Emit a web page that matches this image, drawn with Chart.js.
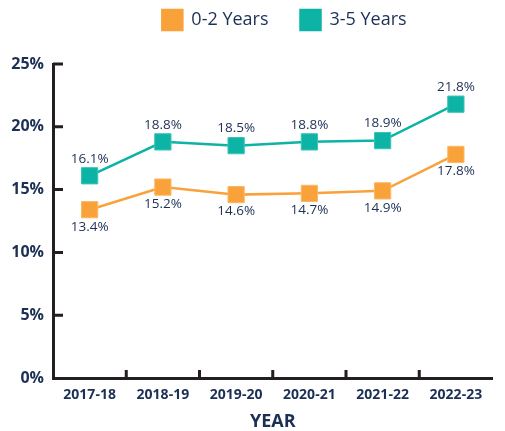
<!DOCTYPE html>
<html>
<head>
<meta charset="utf-8">
<script src="https://cdn.jsdelivr.net/npm/chart.js@4.4.1/dist/chart.umd.min.js"></script>
<style>
  html, body { margin: 0; padding: 0; background: #fff; }
  #wrap { width: 505px; height: 431px; }
</style>
</head>
<body>
<div id="wrap"><canvas id="c"></canvas></div>
<script>
const years = ['2017-18', '2018-19', '2019-20', '2020-21', '2021-22', '2022-23'];
const age0to2 = [13.4, 15.2, 14.6, 14.7, 14.9, 17.8];
const age3to5 = [16.1, 18.8, 18.5, 18.8, 18.9, 21.8];
const yTicks = [0, 5, 10, 15, 20, 25];

const NAVY = '#1c2f55';
const ORANGE = '#f9a23a';
const TEAL = '#0db3a4';
const AXIS = '#231f20';
const FONT = '"Open Sans", sans-serif';

// legend: more room under it, and centred over the plot rather than the canvas
const legendGap = {
  id: 'legendGap',
  beforeInit(chart) {
    const fit = chart.legend.fit;
    chart.legend.fit = function () {
      fit.bind(this)();
      this.height += 24;
      if (this.lineWidths && this.lineWidths.length) this.lineWidths[0] -= 64;
    };
  }
};

// inward tick marks on both axes
const innerTicks = {
  id: 'innerTicks',
  afterDraw(chart) {
    const { ctx, scales: { x, y }, chartArea } = chart;
    ctx.save();
    ctx.strokeStyle = AXIS;
    ctx.lineWidth = 3;
    ctx.beginPath();
    yTicks.forEach(v => {
      if (v === 0) return;
      const py = y.getPixelForValue(v);
      ctx.moveTo(chartArea.left, py);
      ctx.lineTo(chartArea.left + 10, py);
    });
    for (let i = 1; i < years.length; i++) {
      const px = (x.getPixelForValue(i - 1) + x.getPixelForValue(i)) / 2;
      ctx.moveTo(px, chartArea.bottom);
      ctx.lineTo(px, chartArea.bottom - 8);
    }
    ctx.stroke();
    ctx.restore();
  }
};

// value labels: above for 3-5, below for 0-2
const valueLabels = {
  id: 'valueLabels',
  afterDatasetsDraw(chart) {
    const { ctx } = chart;
    ctx.save();
    ctx.font = '13.5px ' + FONT;
    ctx.fillStyle = NAVY;
    ctx.textAlign = 'center';
    ctx.textBaseline = 'middle';
    chart.data.datasets.forEach((ds, di) => {
      const meta = chart.getDatasetMeta(di);
      const dy = di === 1 ? -17 : 17;
      meta.data.forEach((pt, i) => {
        ctx.fillText(ds.data[i].toFixed(1) + '%', pt.x, pt.y + dy);
      });
    });
    ctx.restore();
  }
};

new Chart(document.getElementById('c'), {
  type: 'line',
  data: {
    labels: years,
    datasets: [
      {
        label: '0-2 Years',
        data: age0to2,
        borderColor: ORANGE,
        backgroundColor: ORANGE,
        borderWidth: 2.5,
        pointStyle: 'rect',
        pointRadius: 11.5,
        pointHoverRadius: 11.5,
        pointBorderWidth: 1,
        pointBorderColor: '#fbb968'
      },
      {
        label: '3-5 Years',
        data: age3to5,
        borderColor: TEAL,
        backgroundColor: TEAL,
        borderWidth: 2.5,
        pointStyle: 'rect',
        pointRadius: 11.5,
        pointHoverRadius: 11.5,
        pointBorderWidth: 1,
        pointBorderColor: '#3cc4b8'
      }
    ]
  },
  options: {
    responsive: true,
    maintainAspectRatio: false,
    animation: false,
    layout: { padding: { top: -22, right: 0, left: 0, bottom: 0 } },
    plugins: {
      legend: {
        position: 'top',
        labels: {
          boxWidth: 20,
          boxHeight: 20,
          padding: 32,
          color: NAVY,
          font: { family: FONT, size: 18 }
        }
      },
      tooltip: { enabled: false }
    },
    scales: {
      x: {
        offset: true,
        afterFit(scale) { scale.height = 53; },
        grid: { display: false, drawTicks: false },
        border: { display: true, color: AXIS, width: 3 },
        ticks: {
          color: NAVY,
          padding: 9,
          font: { family: FONT, size: 14, weight: 'bold' }
        },
        title: {
          display: true,
          text: 'YEAR',
          color: NAVY,
          padding: { top: 0, bottom: -2 },
          font: { family: FONT, size: 18, weight: 'bold' }
        }
      },
      y: {
        min: 0,
        max: 25,
        afterBuildTicks(scale) {
          scale.ticks = yTicks.map(v => ({ value: v }));
        },
        afterFit(scale) { scale.width = 53; },
        grid: { display: false, drawTicks: false },
        border: { display: true, color: AXIS, width: 3 },
        ticks: {
          color: NAVY,
          padding: 9,
          font: { family: FONT, size: 16, weight: 'bold' },
          callback: v => v + '%'
        }
      }
    }
  },
  plugins: [legendGap, innerTicks, valueLabels]
});
</script>
</body>
</html>
